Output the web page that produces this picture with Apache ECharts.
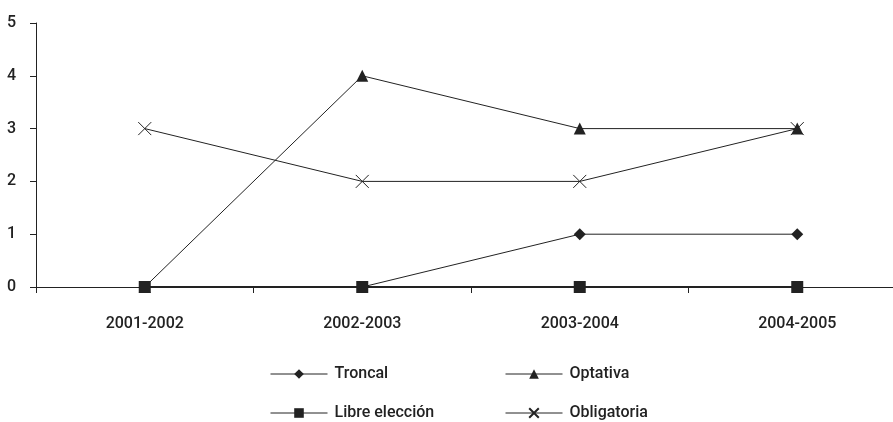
<!DOCTYPE html>
<html><head><meta charset="utf-8">
<script src="https://cdn.jsdelivr.net/npm/echarts@6/dist/echarts.min.js"></script>
<style>html,body{margin:0;padding:0;background:#fff}#c{width:893px;height:422px}</style>
</head><body><div id="c"></div>
<script>
const categories = ['2001-2002','2002-2003','2003-2004','2004-2005'];
const troncal = [0,0,1,1];
const optativa = [0,4,3,3];
const libre = [0,0,0,0];
const obligatoria = [3,2,2,3];
const yTicks = [0,1,2,3,4,5];

const ink = '#222';
const font = 'Roboto';
const crossPath = 'path://M0,0L10,10M10,0L0,10';
function ser(name, data, symbol, size, extra){
  return Object.assign({
    name, type:'line', data, symbol, symbolSize:size, showAllSymbol:true,
    lineStyle:{color:ink,width:1},
    itemStyle:{color:ink,borderColor:ink,borderWidth:0},
    emphasis:{disabled:true}, animation:false, z:3
  }, extra||{});
}
const series = [
  ser('Troncal', troncal, 'diamond', 12),
  ser('Optativa', optativa, 'triangle', 12),
  ser('Libre elección', libre, 'rect', 12, {lineStyle:{color:ink,width:2}}),
  ser('Obligatoria', obligatoria, crossPath, 13, {itemStyle:{color:'none',borderColor:ink,borderWidth:1}})
];
function leg(name, left, top){
  return {data:[name], left, top, padding:0, itemWidth:57, itemHeight:12, itemGap:0,
    lineStyle:{width:1,color:ink},
    textStyle:{fontFamily:font,fontSize:16,fontWeight:500,color:ink,padding:[0,0,0,2]},
    selectedMode:false};
}
const chart = echarts.init(document.getElementById('c'), null, {renderer:'canvas'});
chart.setOption({
  animation:false,
  grid:{left:36, width:870, top:23, bottom:135, containLabel:false, outerBoundsMode:'none'},
  xAxis:{type:'category', data:categories, boundaryGap:true,
    axisLine:{lineStyle:{color:ink,width:1}},
    axisTick:{show:true,length:6,lineStyle:{color:ink},alignWithLabel:false},
    axisLabel:{color:ink,fontFamily:font,fontSize:16,fontWeight:500,margin:29}},
  yAxis:{type:'value', min:0, max:5, interval:1,
    axisLine:{show:true,lineStyle:{color:ink,width:1}},
    axisTick:{show:true,length:6,lineStyle:{color:ink}},
    splitLine:{show:false},
    axisLabel:{color:ink,fontFamily:font,fontSize:16,fontWeight:500,margin:20,
      formatter:v=>yTicks.includes(v)?String(v):''}},
  legend:[leg('Troncal',270,366), leg('Optativa',505,366), leg('Libre elección',270,405), leg('Obligatoria',505,405)],
  series
});
</script></body></html>
